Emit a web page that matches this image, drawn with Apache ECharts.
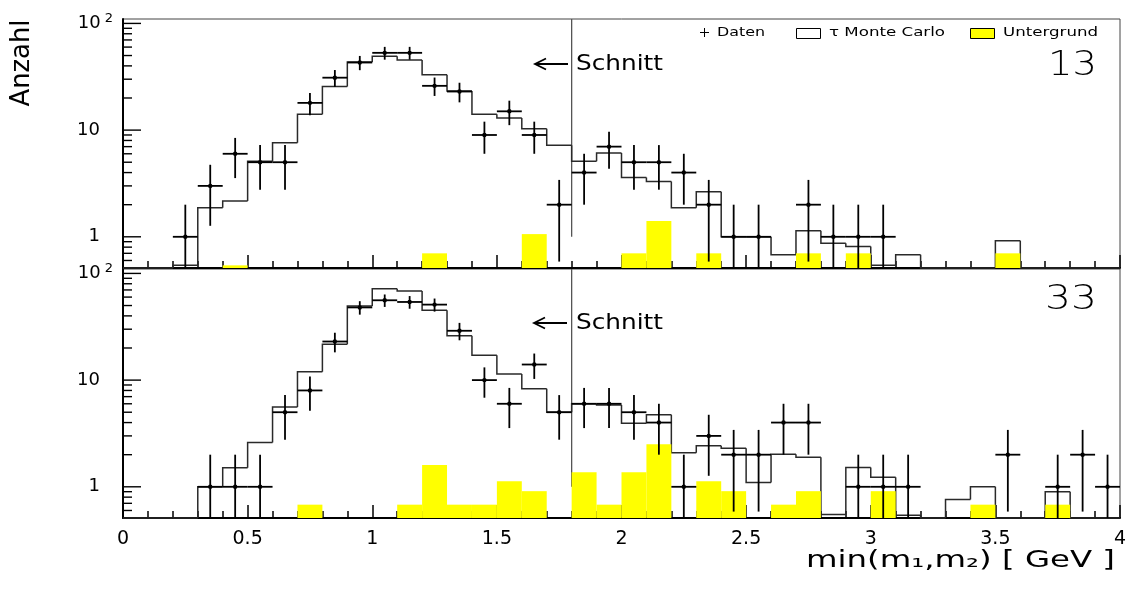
<!DOCTYPE html>
<html>
<head>
<meta charset="utf-8">
<script src="https://cdn.jsdelivr.net/npm/echarts@6/dist/echarts.min.js"></script>
<style>
  html, body { margin: 0; padding: 0; background: #fff; }
  #chart { width: 1130px; height: 589px; }
</style>
</head>
<body>
<div id="chart"></div>
<script>
// Binning of min(m1,m2): 40 bins of 0.1 GeV from 0 to 4 GeV
const BIN_START = 0;
const BIN_WIDTH = 0.1;
const X_MIN = 0, X_MAX = 4;
const Y_MIN = 0.51, Y_MAX = 110;

const xTickLabels = ['0', '0.5', '1', '1.5', '2', '2.5', '3', '3.5', '4'];
const yMajorTicks = [1, 10, 100];
const yTickLabels = ['{n|1}{sp| }', '{n|10}{sp| }', '{n|10}{sup|2}'];
const yMinorTicks = [0.6, 0.7, 0.8, 0.9, 2, 3, 4, 5, 6, 7, 8, 9, 20, 30, 40, 50, 60, 70, 80, 90];

const panelLabels = ['13', '33'];
const cutValue = 1.8;
const cutFrom = 1;

// Topology 1-3: data counts, tau Monte Carlo, background
const data13 = [0, 0, 1, 3, 6, 5, 5, 18, 31, 43,
                53, 53, 26, 23, 9, 15, 9, 2, 4, 7,
                5, 5, 4, 2, 1, 1, 0, 2, 1, 1,
                1, 0, 0, 0, 0, 0, 0, 0, 0, 0];
const mc13 = [0, 0, 0.54, 1.87, 2.16, 5.1, 7.6, 14.1, 25.6, 43.4,
              49.3, 45.3, 33.0, 23.2, 14.1, 13.0, 10.3, 7.2, 5.1, 6.1,
              3.6, 3.3, 1.87, 2.64, 1.0, 1.0, 0.68, 1.14, 0.87, 0.81,
              0.54, 0.68, 0, 0, 0, 0.92, 0, 0, 0, 0];
const bg13 = [0, 0, 0, 0, 0.54, 0, 0, 0, 0, 0,
              0, 0, 0.70, 0, 0, 0, 1.06, 0, 0, 0,
              0.70, 1.41, 0, 0.70, 0, 0, 0, 0.70, 0, 0.70,
              0, 0, 0, 0, 0, 0.70, 0, 0, 0, 0];

// Topology 3-3
const data33 = [0, 0, 0, 1, 1, 1, 5, 8, 23, 48,
                56, 54, 51, 29, 10, 6, 14, 5, 6, 6,
                5, 4, 1, 3, 2, 2, 4, 4, 0, 1,
                1, 1, 0, 0, 0, 2, 0, 1, 2, 1];
const mc33 = [0, 0, 0, 1.0, 1.51, 2.6, 5.6, 12.0, 21.7, 49.5,
              72, 68.6, 45.1, 26, 17.1, 11.4, 8.3, 5.0, 6.0, 5.84,
              3.95, 4.73, 2.09, 2.42, 2.30, 1.10, 2.02, 1.89, 0.55, 1.52,
              1.23, 0.54, 0, 0.76, 1.0, 0, 0, 0.90, 0, 0];
const bg33 = [0, 0, 0, 0, 0, 0, 0, 0.68, 0, 0,
              0, 0.68, 1.6, 0.68, 0.68, 1.13, 0.91, 0, 1.37, 0.68,
              1.37, 2.5, 0, 1.13, 0.91, 0, 0.68, 0.91, 0, 0,
              0.91, 0, 0, 0, 0.68, 0, 0, 0.68, 0, 0];

const panels = [
  { data: data13, mc: mc13, bg: bg13 },
  { data: data33, mc: mc33, bg: bg33 }
];

const FONT = "'DejaVu Sans', 'Liberation Sans', sans-serif";
const LINE = '#000';

function binCenter(i) { return BIN_START + (i + 0.5) * BIN_WIDTH; }
function floorY(v) { return v > Y_MIN ? v : Y_MIN; }

// Outline of the Monte Carlo histogram, one step per bin
function renderStep(params, api) {
  const xc = api.value(0), v = api.value(1), vp = api.value(2);
  const c = api.coord([xc - BIN_WIDTH / 2, floorY(vp)]);
  const a = api.coord([xc - BIN_WIDTH / 2, floorY(v)]);
  const b = api.coord([xc + BIN_WIDTH / 2, floorY(v)]);
  return {
    type: 'polyline',
    shape: { points: [c, a, b] },
    style: { stroke: '#2a2a2a', lineWidth: 1.5, fill: 'none' }
  };
}

// Filled background histogram bars
function renderFill(params, api) {
  const xc = api.value(0), v = api.value(1);
  if (!(v > 0)) return null;
  const p0 = api.coord([xc - BIN_WIDTH / 2, v]);
  const p1 = api.coord([xc + BIN_WIDTH / 2, Y_MIN]);
  return {
    type: 'rect',
    shape: { x: p0[0], y: p0[1], width: p1[0] - p0[0], height: p1[1] - p0[1] },
    style: { fill: '#ffff00' }
  };
}

// Data points: bin-wide horizontal bar plus sqrt(N) error bar
function renderCross(params, api) {
  const xc = api.value(0), n = api.value(1);
  if (!(n > 0)) return null;
  const e = Math.sqrt(n);
  const pL = api.coord([xc - BIN_WIDTH / 2, n]);
  const pR = api.coord([xc + BIN_WIDTH / 2, n]);
  const pT = api.coord([xc, Math.min(n + e, Y_MAX)]);
  const pB = api.coord([xc, Math.max(n - e, Y_MIN)]);
  const st = { stroke: LINE, lineWidth: 1.8 };
  return {
    type: 'group',
    children: [
      { type: 'line', shape: { x1: pL[0], y1: pL[1], x2: pR[0], y2: pR[1] }, style: st },
      { type: 'line', shape: { x1: pT[0], y1: pT[1], x2: pB[0], y2: pB[1] }, style: st },
      { type: 'circle', shape: { cx: (pL[0] + pR[0]) / 2, cy: pL[1], r: 2.2 }, style: { fill: LINE } }
    ]
  };
}

// Cut position marker
function renderCut(params, api) {
  const p0 = api.coord([api.value(0), api.value(1)]);
  const p1 = api.coord([api.value(0), Y_MAX]);
  return {
    type: 'line',
    shape: { x1: p0[0], y1: p0[1], x2: p1[0], y2: p1[1] },
    style: { stroke: '#555', lineWidth: 1.3 }
  };
}

// Logarithmic tick marks drawn inward from the left axis
function renderYTick(params, api) {
  const p = api.coord([X_MIN, api.value(1)]);
  const len = api.value(2);
  return {
    type: 'line',
    shape: { x1: p[0], y1: p[1], x2: p[0] + len, y2: p[1] },
    style: { stroke: LINE, lineWidth: 1.4 }
  };
}

const GRID_LEFT = 123, GRID_WIDTH = 997, GRID_HEIGHT = 249;
const gridTops = [19, 269];

const grids = gridTops.map(top => ({
  left: GRID_LEFT, top: top, width: GRID_WIDTH, height: GRID_HEIGHT,
  show: true, borderColor: '#444', borderWidth: 1, backgroundColor: 'transparent'
}));

const xAxes = gridTops.map((top, p) => ({
  type: 'value', gridIndex: p, min: X_MIN, max: X_MAX, interval: 0.5,
  axisLine: { show: true, onZero: false, lineStyle: { color: LINE, width: 2 } },
  axisTick: { show: true, inside: true, length: 13, lineStyle: { color: LINE, width: 1.5 } },
  minorTick: { show: true, splitNumber: 5, length: 7, lineStyle: { color: LINE, width: 1.5 } },
  splitLine: { show: false },
  minorSplitLine: { show: false },
  axisLabel: {
    show: p === 1,
    margin: 12,
    color: '#000',
    fontFamily: FONT,
    fontSize: 19,
    formatter: v => xTickLabels[Math.round((v - X_MIN) / 0.5)] || ''
  }
}));

function yLabel(v) {
  for (let k = 0; k < yMajorTicks.length; k++) {
    if (Math.abs(Math.log10(v) - Math.log10(yMajorTicks[k])) < 1e-6) return yTickLabels[k];
  }
  return '';
}

const yAxes = gridTops.map((top, p) => ({
  type: 'log', logBase: 10, gridIndex: p, min: Y_MIN, max: Y_MAX,
  axisLine: { show: true, lineStyle: { color: LINE, width: 2 } },
  axisTick: { show: false },
  splitLine: { show: false },
  minorTick: { show: false },
  axisLabel: {
    show: true,
    margin: 10,
    color: '#000',
    formatter: yLabel,
    rich: {
      n: { fontFamily: FONT, fontSize: 18, lineHeight: 22, color: '#000' },
      sup: { fontFamily: FONT, fontSize: 13, lineHeight: 13, verticalAlign: 'top', padding: [0, 0, 0, 4], color: '#000' },
      sp: { fontFamily: FONT, fontSize: 13, width: 13 }
    }
  }
}));

const tickData = yMajorTicks.map(v => [X_MIN, v, 18]).concat(yMinorTicks.map(v => [X_MIN, v, 9]));

const series = [];
panels.forEach((pn, p) => {
  series.push({
    type: 'custom', name: 'cut', xAxisIndex: p, yAxisIndex: p, z: 2, silent: true,
    renderItem: renderCut, data: [[cutValue, cutFrom]]
  });
  series.push({
    type: 'custom', name: 'τ Monte Carlo', xAxisIndex: p, yAxisIndex: p, z: 2, silent: true,
    renderItem: renderStep,
    data: pn.mc.map((v, i) => [binCenter(i), v, i > 0 ? pn.mc[i - 1] : 0])
  });
  series.push({
    type: 'custom', name: 'Untergrund', xAxisIndex: p, yAxisIndex: p, z: 3, silent: true,
    renderItem: renderFill,
    data: pn.bg.map((v, i) => [binCenter(i), v])
  });
  series.push({
    type: 'custom', name: 'Daten', xAxisIndex: p, yAxisIndex: p, z: 4, silent: true,
    renderItem: renderCross,
    data: pn.data.map((v, i) => [binCenter(i), v])
  });
  series.push({
    type: 'custom', name: 'ticks', xAxisIndex: p, yAxisIndex: p, z: 5, silent: true,
    renderItem: renderYTick, data: tickData
  });
});

// Horizontal stretch so a text run spans a given width
const measureCtx = document.createElement('canvas').getContext('2d');
function stretch(text, size, width, weight) {
  measureCtx.font = (weight || 'normal') + ' ' + size + 'px ' + FONT;
  const w = measureCtx.measureText(text).width;
  return w > 0 ? width / w : 1;
}

function textEl(text, x, y, size, width, opts) {
  opts = opts || {};
  return {
    type: 'text', x: x, y: y, rotation: opts.rotation || 0,
    scaleX: stretch(text, size, width, opts.weight),
    z: 10,
    style: {
      text: text, fontFamily: FONT, fontSize: size, fontWeight: opts.weight || 'normal',
      fill: '#000', align: opts.align || 'left', verticalAlign: 'middle'
    }
  };
}

function arrow(xTip, xTail, y) {
  return {
    type: 'group', z: 10, children: [
      { type: 'line', shape: { x1: xTail, y1: y, x2: xTip, y2: y }, style: { stroke: '#000', lineWidth: 1.8 } },
      { type: 'polyline', shape: { points: [[xTip + 11, y - 5.5], [xTip, y], [xTip + 11, y + 5.5]] },
        style: { stroke: '#000', lineWidth: 1.8, fill: 'none' } }
    ]
  };
}

const graphics = [
  // axis titles
  textEl('Anzahl', 22, 63, 26, 87, { align: 'center', rotation: Math.PI / 2 }),
  textEl('min(m₁,m₂) [ GeV ]', 806, 561, 23, 309),
  // cut annotations
  arrow(535, 568, 64),
  textEl('Schnitt', 576, 65, 21, 87),
  arrow(534, 567, 323),
  textEl('Schnitt', 576, 324, 21, 87),
  // topology labels
  textEl(panelLabels[0], 1048, 66, 34, 49, { weight: 200 }),
  textEl(panelLabels[1], 1045, 300, 34, 52, { weight: 200 }),
  // legend
  { type: 'group', z: 10, children: [
      { type: 'line', shape: { x1: 700, y1: 32.5, x2: 709, y2: 32.5 }, style: { stroke: '#000', lineWidth: 1 } },
      { type: 'line', shape: { x1: 704.5, y1: 28, x2: 704.5, y2: 37 }, style: { stroke: '#000', lineWidth: 1 } },
      { type: 'rect', shape: { x: 796.5, y: 28.5, width: 24, height: 10 }, style: { fill: '#fff', stroke: '#000', lineWidth: 1 } },
      { type: 'rect', shape: { x: 970.5, y: 28.5, width: 24, height: 10 }, style: { fill: '#ffff00', stroke: '#000', lineWidth: 1 } }
  ] },
  textEl('Daten', 717, 33, 13, 48),
  textEl('τ Monte Carlo', 829, 33, 13, 116),
  textEl('Untergrund', 1003, 33, 13, 95)
];

const chart = echarts.init(document.getElementById('chart'), null, { renderer: 'canvas' });
chart.setOption({
  animation: false,
  backgroundColor: '#fff',
  grid: grids,
  xAxis: xAxes,
  yAxis: yAxes,
  series: series,
  graphic: graphics
});
</script>
</body>
</html>
